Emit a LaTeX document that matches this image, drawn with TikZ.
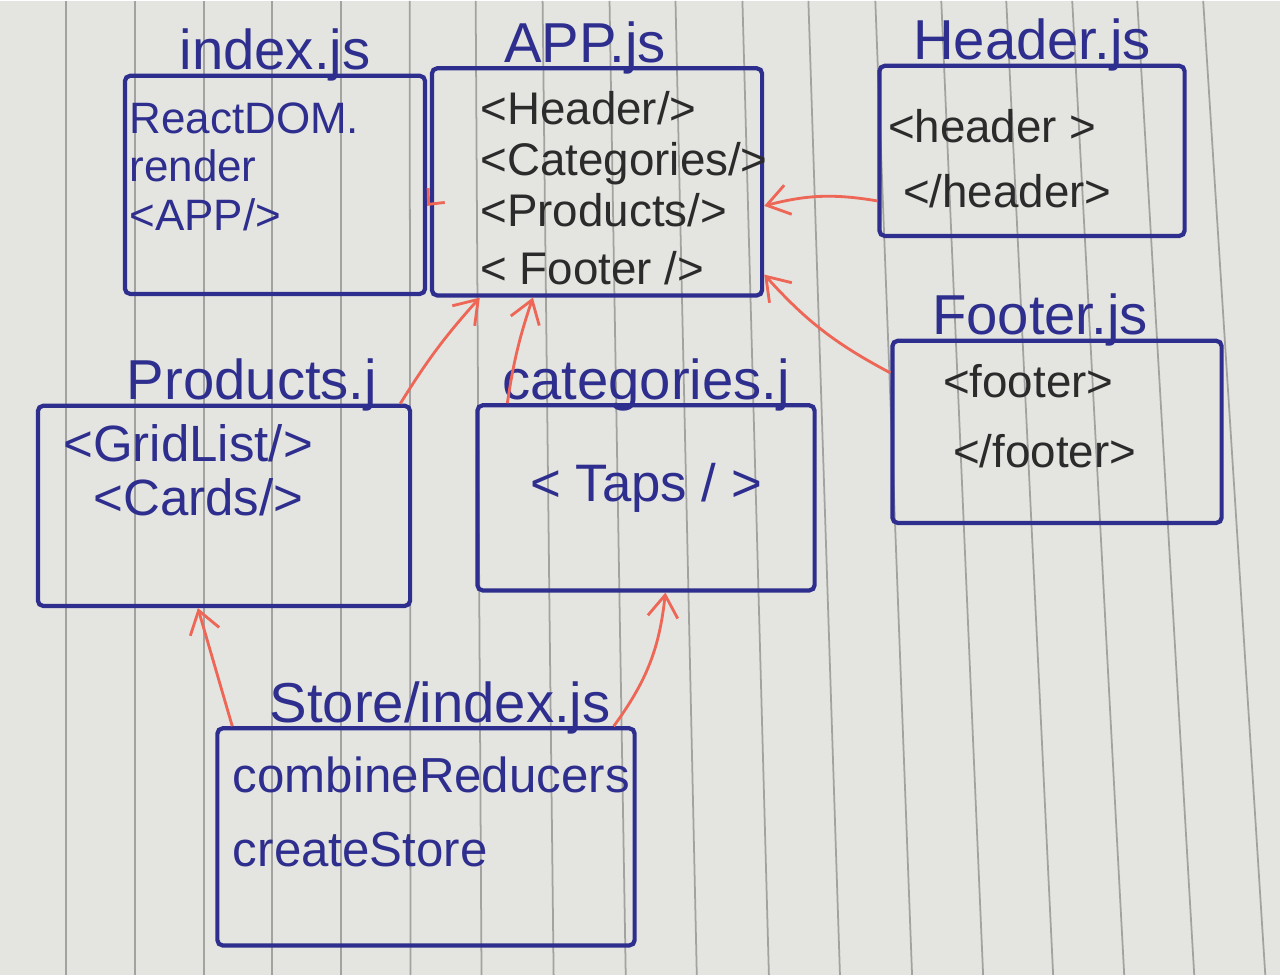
\documentclass[tikz,border=0pt]{standalone}
\usepackage{fontspec}
\setmainfont{Liberation Sans}
\usetikzlibrary{positioning, arrows.meta}
\definecolor{paper}{HTML}{E4E4E0}
\definecolor{ruling}{HTML}{A2A2A0}
\definecolor{penblue}{HTML}{2E2E8E}
\definecolor{penblack}{HTML}{2B2B2B}
\definecolor{penred}{HTML}{EE6655}
\tikzset{
  filebox/.style={
    draw=penblue, line width=1.2pt, rounded corners=1.5pt, inner sep=0pt
  },
  filetitle/.style={
    text=penblue, font=\fontsize{16}{18}\selectfont, inner sep=0pt
  },
  codetext/.style={
    text=penblack, font=\fontsize{13}{14.5}\selectfont, align=left, inner sep=0pt
  },
  bluecode/.style={codetext, text=penblue},
  usesarrow/.style={-{Straight Barb[length=2.2mm, width=3mm]}, line width=0.8pt, draw=penred},
  shortarrow/.style={-{Straight Barb[length=1.2mm, width=2.2mm]}, line width=0.8pt, draw=penred}
}
\begin{document}
\begin{tikzpicture}[x=0.01cm, y=-0.01cm]
  % sheet of ruled paper
  \fill[paper] (0,0) rectangle (1280,974);
  \foreach \xm in {66,135,204,272,341,410,478,547,616,684,753,821,890,958,1025,1093,1160,1228}
    \draw[ruling, line width=0.5pt] ({\xm-0.03*max(\xm-400,0)},0) -- ({\xm+0.045*max(\xm-400,0)},974);

  % file boxes
  \node[filebox, minimum width=3.0cm, minimum height=2.18cm] (index) at (275,184) {};
  \node[filebox, minimum width=3.3cm, minimum height=2.27cm] (app) at (597,181) {};
  \node[filebox, minimum width=3.05cm, minimum height=1.7cm] (header) at (1032,150) {};
  \node[filebox, minimum width=3.29cm, minimum height=1.82cm] (footer) at (1057,431) {};
  \node[filebox, minimum width=3.72cm, minimum height=2.0cm] (products) at (224,505) {};
  \node[filebox, minimum width=3.37cm, minimum height=1.85cm] (categories) at (646,497) {};
  \node[filebox, minimum width=4.17cm, minimum height=2.17cm] (store) at (426,836) {};

  % file names
  \node[filetitle, above=0.04cm of index.north, anchor=base] (indextitle) {index.js};
  \node[filetitle, above=0.04cm of app.north, anchor=base, xshift=-0.12cm] (apptitle) {APP.js};
  \node[filetitle, above=0.04cm of header.north, anchor=base] (headertitle) {Header.js};
  \node[filetitle, above=0.04cm of footer.north, anchor=base, xshift=-0.17cm] (footertitle) {Footer.js};
  \node[filetitle, above=0.04cm of products.north, anchor=base, xshift=0.28cm] (productstitle) {Products.j};
  \node[filetitle, above=0.04cm of categories.north, anchor=base] (categoriestitle) {categories.j};
  \node[filetitle, above=0.04cm of store.north, anchor=base, xshift=0.14cm] (storetitle) {Store/index.js};

  % file contents
  \node[bluecode, font=\fontsize{12.5}{13.8}\selectfont, below right=0.28cm and 0.06cm of index.north west] (indexcode) {ReactDOM.\\render\\<APP/>};
  \node[codetext, below right=0.24cm and 0.5cm of app.north west] (appcode) {<Header/>\\<Categories/>\\<Products/>\\[2pt]< Footer />};
  \node[codetext, font=\fontsize{13}{18.5}\selectfont, below right=0.45cm and 0.1cm of header.north west] (headercode) {<header >\\\hspace{0.15cm}</header>};
  \node[codetext, font=\fontsize{13}{20}\selectfont, below right=0.25cm and 0.52cm of footer.north west] (footercode) {<footer>\\\hspace{0.1cm}</footer>};
  \node[bluecode, font=\fontsize{14.5}{15.5}\selectfont, below right=0.2cm and 0.27cm of products.north west] (productscode) {<GridList/>\\\hspace{0.3cm}<Cards/>};
  \node[bluecode, font=\fontsize{15}{16}\selectfont] (categoriescode) at ([yshift=0.1cm]categories.center) {< Taps / >};
  \node[bluecode, font=\fontsize{14}{21}\selectfont, below right=0.3cm and 0.17cm of store.north west] (storecode) {combineReducers\\createStore};

  % imports
  \draw[shortarrow] ([yshift=-0.21cm]app.west) -- ([yshift=-0.21cm]index.east);
  \draw[usesarrow] ([yshift=-0.5cm]header.west) to[bend right=12] ([yshift=-0.24cm]app.east);
  \draw[usesarrow] ([yshift=0.59cm]footer.west) to[bend left=10] ([yshift=0.23cm]app.south east);
  \draw[usesarrow] ([xshift=-0.12cm]products.north east) to[bend left=5] ([xshift=0.5cm]app.south west);
  \draw[usesarrow] ([xshift=0.32cm]categories.north west) to[bend left=5] ([xshift=1.03cm]app.south west);
  \draw[usesarrow] ([xshift=0.17cm]store.north west) -- ([xshift=1.62cm]products.south west);
  \draw[usesarrow] ([xshift=-0.23cm]store.north east) to[bend right=15] ([xshift=1.9cm]categories.south west);
\end{tikzpicture}
\end{document}
